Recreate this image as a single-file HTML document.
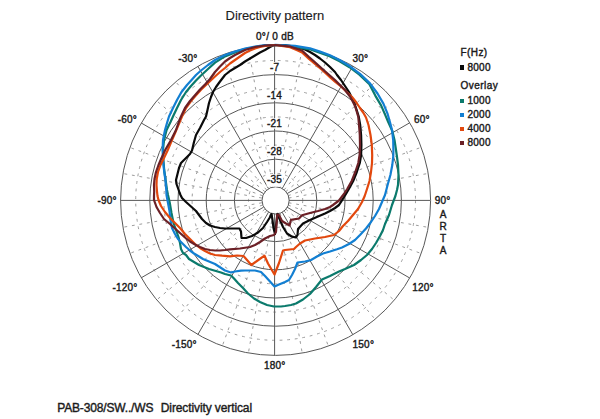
<!DOCTYPE html>
<html><head><meta charset="utf-8"><title>Directivity pattern</title>
<style>
html,body{margin:0;padding:0;background:#fff;}
body{width:600px;height:419px;position:relative;overflow:hidden;font-family:"Liberation Sans",Arial,sans-serif;color:#1c1c1c;}
.t{position:absolute;white-space:nowrap;line-height:1;font-size:10px;letter-spacing:0.2px;-webkit-text-stroke:0.4px #1a1a1a;}
.sq{position:absolute;width:3.3px;height:4.4px;}
</style></head><body>
<svg width="600" height="419" viewBox="0 0 600 419" style="position:absolute;left:0;top:0">
<g fill="none" stroke="#9c9c9c" stroke-width="1" stroke-dasharray="2.8 4.8">
<circle cx="275.6" cy="200.4" r="27.10"/>
<circle cx="275.6" cy="200.4" r="55.30"/>
<circle cx="275.6" cy="200.4" r="83.50"/>
<circle cx="275.6" cy="200.4" r="111.70"/>
<circle cx="275.6" cy="200.4" r="139.90"/>
<line x1="277.66" y1="187.01" x2="302.22" y2="47.75"/>
<line x1="279.95" y1="187.62" x2="328.31" y2="54.75"/>
<line x1="284.04" y1="189.98" x2="374.93" y2="81.66"/>
<line x1="285.72" y1="191.66" x2="394.04" y2="100.77"/>
<line x1="288.08" y1="195.75" x2="420.95" y2="147.39"/>
<line x1="288.69" y1="198.04" x2="427.95" y2="173.48"/>
<line x1="288.69" y1="202.76" x2="427.95" y2="227.32"/>
<line x1="288.08" y1="205.05" x2="420.95" y2="253.41"/>
<line x1="285.72" y1="209.14" x2="394.04" y2="300.03"/>
<line x1="284.04" y1="210.82" x2="374.93" y2="319.14"/>
<line x1="279.95" y1="213.18" x2="328.31" y2="346.05"/>
<line x1="277.66" y1="213.79" x2="302.22" y2="353.05"/>
<line x1="272.94" y1="213.79" x2="248.38" y2="353.05"/>
<line x1="270.65" y1="213.18" x2="222.29" y2="346.05"/>
<line x1="266.56" y1="210.82" x2="175.67" y2="319.14"/>
<line x1="264.88" y1="209.14" x2="156.56" y2="300.03"/>
<line x1="262.52" y1="205.05" x2="129.65" y2="253.41"/>
<line x1="261.91" y1="202.76" x2="122.65" y2="227.32"/>
<line x1="261.91" y1="198.04" x2="122.65" y2="173.48"/>
<line x1="262.52" y1="195.75" x2="129.65" y2="147.39"/>
<line x1="264.88" y1="191.66" x2="156.56" y2="100.77"/>
<line x1="266.56" y1="189.98" x2="175.67" y2="81.66"/>
<line x1="270.65" y1="187.62" x2="222.29" y2="54.75"/>
<line x1="272.94" y1="187.01" x2="248.38" y2="47.75"/>
</g>
<g fill="none" stroke="#585858" stroke-width="1">
<circle cx="275.6" cy="200.4" r="13.60" fill="#fff"/>
<circle cx="275.6" cy="200.4" r="41.20"/>
<circle cx="275.6" cy="200.4" r="69.40"/>
<circle cx="275.6" cy="200.4" r="97.60"/>
<circle cx="275.6" cy="200.4" r="125.80"/>
<circle cx="275.6" cy="200.4" r="155.00"/>
<line x1="274.60" y1="186.80" x2="274.60" y2="45.40"/>
<line x1="282.10" y1="188.62" x2="352.80" y2="66.17"/>
<line x1="287.08" y1="193.60" x2="409.53" y2="122.90"/>
<line x1="288.90" y1="200.40" x2="430.30" y2="200.40"/>
<line x1="287.08" y1="207.20" x2="409.53" y2="277.90"/>
<line x1="282.10" y1="212.18" x2="352.80" y2="334.63"/>
<line x1="274.60" y1="214.00" x2="274.60" y2="355.40"/>
<line x1="268.50" y1="212.18" x2="197.80" y2="334.63"/>
<line x1="263.52" y1="207.20" x2="141.07" y2="277.90"/>
<line x1="261.70" y1="200.40" x2="120.30" y2="200.40"/>
<line x1="263.52" y1="193.60" x2="141.07" y2="122.90"/>
<line x1="268.50" y1="188.62" x2="197.80" y2="66.17"/>
</g>
<g font-family="'Liberation Sans', Arial, sans-serif" font-size="10" fill="#1c1c1c" stroke="#1a1a1a" stroke-width="0.4" letter-spacing="0.2" text-anchor="middle">
<rect x="269.3" y="62.0" width="11.0" height="10.4" fill="#fff" stroke="none"/>
<text x="274.6" y="70.6">-7</text>
<rect x="266.6" y="90.3" width="16.5" height="10.4" fill="#fff" stroke="none"/>
<text x="274.6" y="98.9">-14</text>
<rect x="266.6" y="118.3" width="16.5" height="10.4" fill="#fff" stroke="none"/>
<text x="274.6" y="126.9">-21</text>
<rect x="266.6" y="146.2" width="16.5" height="10.4" fill="#fff" stroke="none"/>
<text x="274.6" y="154.8">-28</text>
<rect x="266.6" y="174.5" width="16.5" height="12.2" fill="#fff" stroke="none"/>
<text x="274.6" y="183.1">-35</text>
</g>
<polyline fill="none" stroke="#0a0a0a" stroke-width="2.2" stroke-linejoin="round" stroke-linecap="round" points="275,45 285,45 294,46.5 300,48 305,49.5 310,52 315,55 320,58.5 325,62.5 330,67 335,72 337,75 341,80 345,86 349,92 352,98 355,105 357,111 358.7,116.5 360.2,125 361.1,135 361.4,145 361.1,155 359.8,163 356.8,172 353.2,181 348.7,189.2 345.8,194.2 341.3,201.3 339,205 335,208 330,211 325,213.5 318,216.5 310,220 303,223.5 298,229 297.5,235 296,237.5 292,236.7 287,233.5 283,227 280,220 277.5,214 275,234 273.5,228 272.5,220 271.5,214 269.5,218 267,222 263,228 258,232.5 252,236 246,238 241.5,238 241,231.5 239.5,228.5 230,228.5 225,228.5 220,228 215,227 210,225.5 206,223 202,219 199,215 196,211 191,206.5 186,202 182,198 180.5,195 179.5,192.5 178.3,189 176.5,184 176,180 177.5,174 179,168 181,163 184,160 190,154 192,150.5 194,142 196,135 200,128 204,120 206,116.5 207.5,110 209,103 211,97 213,92 216,87 220,81.5 225,75 230,71 235,68 240,65 245,61.5 250,58.5 255,55.5 260,52.5 265,50 270,47 274,45 275,45"/>
<polyline fill="none" stroke="#0b7a6c" stroke-width="2.2" stroke-linejoin="round" stroke-linecap="round" points="275,45 294.9,46.8 309.8,49.3 319.7,52.6 329.6,56.2 339.6,61.2 349.5,67.2 359.4,74.6 369.4,84.2 375.3,95.6 381.2,105.6 385.4,115.4 388,121.5 392.3,131 394.5,140 396,150 397,157 398,165 398.5,175 398,185 397,190 395.4,196 392,205 389,215 385,224 383,230 380,236 376,243 372,249 367,255 361,260 354,265 345,269 339,271.5 330,276 322,279.5 320,282 316,287 310,294 303,299.5 296,303.5 291,305 285,306 281,306.5 274,306.5 267,305 260,302 254,298.5 248,293.5 243,288 238,283 234,278.5 231,275.5 225,274 221,272.5 209,269 199,265 189,259 186,255 183,253 181,249 180,243 178.5,237 176,230 173.5,223 171.5,213 169.8,203 168,195 167,190 165.6,180 164.2,170 163.4,160 163,150 164,140 166.6,130 170.5,122 173,116.5 177,108 181,100 186,92 191,86 196,80.5 201,75.5 208,69 215,62.6 225,56.4 235,52.4 245,49.2 255,47 265,45.5 275,45"/>
<polyline fill="none" stroke="#127fd2" stroke-width="2.2" stroke-linejoin="round" stroke-linecap="round" points="275,44.8 295,45.8 310,48.3 320,51.6 330,55.3 340,60.3 350,66.3 360,73.8 370,83.4 377.5,93.5 383.4,103.6 387.4,113.3 390.2,123 392,130 393.2,140 393.4,150 393.3,156 392.3,165 390.4,175 387.6,185 385,195 382,202 379,209 375,216 371,222 366,228.5 360,235 355,240 349,244 342,247.5 337,249.3 330,251.5 323,253.5 317,256.5 311,260 305,261.5 297.5,262.5 295,269 292,275 289,280 285,282 279,284.5 274.5,286.5 270,281.5 265,276 261,272 255,270.5 245,270.5 241,270.6 235,271.5 231,272.5 225,270.5 215,264 203,259 199,256.5 194,253.5 190,250.5 186,247 182,243 178,239 175,234 172,228 170.5,220 169.5,211 168,203 166.5,195 166.3,190 165.4,180 164,170 163,160 162.6,150 163,140 165,130 167,123 169,116.5 173,108 177,100 181.5,92 187,85 192,79.5 196,75 201,70.5 208,65 215,60 225,55 235,51.5 245,48.5 255,46.5 265,45.2 275,45"/>
<polyline fill="none" stroke="#e2480e" stroke-width="2.2" stroke-linejoin="round" stroke-linecap="round" points="275,45 290,47.2 296,49.8 302,52.4 309,58.9 315,63.8 323,70.6 331,78.2 335,81.6 341,86.5 347,92.2 352,97 356,102 360,108 363.5,113 366,117.5 368.5,125 370.5,135 371.8,145 372.2,155 372,163 371,172 369.5,181 367,189 364.7,196 362,202 358,209 353,215 348,221 343,226 339,231 334,235 325,237 315,238.5 305,240.5 300,243.5 296,247 294,249 285,250 283,250.5 279,263 274.5,274.5 268,263.5 264.5,255.7 259,259.5 251.3,265 247,260 243.5,256 237,255.5 230,256.3 222,255.7 215,255 210,253.5 205,251 200,248 195,244 190,239 185,234 180,228 175,223 170,218 165,212 161,206 158.5,200 157.5,196 157,191.5 156.5,185 156.7,179 158,172 160.5,165 164,158 167.8,150 172,140 175.5,132 180.5,120 182,116.5 186,108 191,101 196,95.3 201,89.8 206,85 211,80.3 215,76.5 220,72 225,68 230,63.5 235,60 240,56.5 245,53 250,50.5 255,48.5 260,47 265,46 275,45"/>
<polyline fill="none" stroke="#6b2026" stroke-width="2.2" stroke-linejoin="round" stroke-linecap="round" points="275,45 290,46.5 296,48.5 302,50.5 309,57 315,62.3 323,69.5 331,76.5 335,80 340,85 345,90 350,96.5 353,102 355,106 357,112.5 358.3,117 359,125 359.8,135 360,145 359.6,155 358.3,163 355.3,172 351.7,181 347.2,189 344.3,193.5 339,200.5 333,205 330,207 325,209 318,211 310,213 302,215.3 299,218.5 291,219.8 289.5,225.5 286,223.5 282,221 279,215 277.2,214.5 276.7,222 276,232 274,235 270,236 265,238.5 260,242 255,245 250,247 240,248.5 230,249.3 225,250 220,250.5 215,250.5 210,250 205,249 200,247 195,244.5 190,241.5 185,237.5 180,233 175,228.5 170,224 164,219 160,213 156.5,207 154,200 154,196 154.2,191.5 154,185 154.5,179 156,172 158.5,165 161.5,158 165.2,150 171,140 176,130 179.5,120 181,116.5 185,108 190,101 195,95.3 200,89.5 205,84.5 210,79 215,72 220,66.5 225,61.5 230,58 235,55 240,52.5 245,50 250,48.5 255,47 265,45.5 275,45"/>
</svg>
<div class="t" id="title" style="left:225.6px;top:9.2px;font-size:13px;letter-spacing:-0.1px;-webkit-text-stroke:0.12px #1c1c1c;">Directivity pattern</div>
<div class="t" id="zero" style="left:256px;top:31.5px;letter-spacing:0.3px;">0°/ 0 dB</div>
<div class="t" id="m30" style="left:178.2px;top:53.6px;">-30°</div>
<div class="t" id="p30" style="left:352.4px;top:53.5px;">30°</div>
<div class="t" id="m60" style="left:117.8px;top:114.6px;">-60°</div>
<div class="t" id="p60" style="left:413.9px;top:114.6px;">60°</div>
<div class="t" id="m90" style="left:97.4px;top:196px;">-90°</div>
<div class="t" id="p90" style="left:434.8px;top:196px;">90°</div>
<div class="t" id="m120" style="left:112.4px;top:283.1px;">-120°</div>
<div class="t" id="p120" style="left:412.2px;top:282.7px;">120°</div>
<div class="t" id="m150" style="left:171.8px;top:339.7px;">-150°</div>
<div class="t" id="p150" style="left:352.6px;top:339.9px;">150°</div>
<div class="t" id="p180" style="left:264px;top:360.9px;">180°</div>
<div class="t" id="a1" style="left:439.7px;top:209.8px;">A</div>
<div class="t" id="a2" style="left:439.6px;top:221.7px;">R</div>
<div class="t" id="a3" style="left:440.1px;top:233.9px;">T</div>
<div class="t" id="a4" style="left:439.7px;top:246px;">A</div>
<div class="t" id="fhz" style="left:460.4px;top:48.1px;letter-spacing:0.45px;">F(Hz)</div>
<div class="sq" style="left:460.4px;top:65.2px;background:#0a0a0a"></div>
<div class="t" id="l0" style="left:467.6px;top:62.6px;">8000</div>
<div class="t" id="ov" style="left:460.4px;top:81.4px;letter-spacing:0.5px;">Overlay</div>
<div class="sq" style="left:460.4px;top:98.8px;background:#0b7a6c"></div>
<div class="t" id="l1" style="left:467.6px;top:96.2px;">1000</div>
<div class="sq" style="left:460.4px;top:112.8px;background:#127fd2"></div>
<div class="t" id="l2" style="left:467.6px;top:110.2px;">2000</div>
<div class="sq" style="left:460.4px;top:126.8px;background:#e2480e"></div>
<div class="t" id="l3" style="left:467.6px;top:124.2px;">4000</div>
<div class="sq" style="left:460.4px;top:140.8px;background:#6b2026"></div>
<div class="t" id="l4" style="left:467.6px;top:138.2px;">8000</div>
<div class="t" id="foot1" style="left:57.2px;top:401.5px;font-size:12px;letter-spacing:-0.16px;">PAB-308/SW../WS</div>
<div class="t" id="foot2" style="left:160.8px;top:401.5px;font-size:12px;letter-spacing:-0.11px;">Directivity vertical</div>
</body></html>
